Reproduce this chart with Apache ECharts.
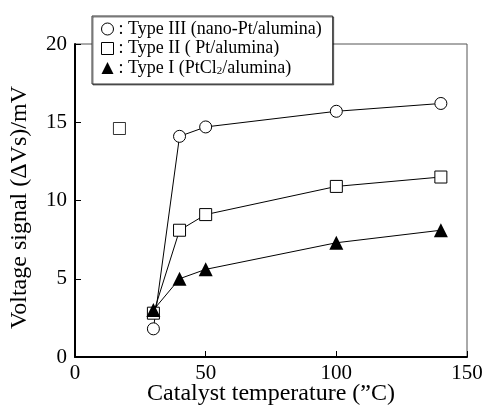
<!DOCTYPE html>
<html>
<head>
<meta charset="utf-8">
<script src="https://cdn.jsdelivr.net/npm/echarts@6/dist/echarts.min.js"></script>
<style>html,body{margin:0;padding:0;background:#fff;}#c{width:486px;height:412px;}</style>
</head>
<body>
<div id="c"></div>
<script>
var seriesNames = ['Type III', 'Type II', 'Type I'];
var legendLabels = [': Type III (nano-Pt/alumina)', ': Type II ( Pt/alumina)', ': Type I (PtCl{sub|2}/alumina)'];
var temps = [30, 40, 50, 100, 140];
var typeIII = [1.8, 14.1, 14.7, 15.7, 16.2];
var typeII = [2.8, 8.1, 9.1, 10.9, 11.5];
var typeI = [3.0, 5.0, 5.6, 7.3, 8.1];
var typeIIExtraX = [17];
var typeIIExtraY = [14.6];
var xTicks = [0, 50, 100, 150];
var yTicks = [0, 5, 10, 15, 20];

function pairs(xs, ys) { return xs.map(function (x, i) { return [x, ys[i]]; }); }

var FONT = 'Liberation Serif';
var chart = echarts.init(document.getElementById('c'), null, { renderer: 'canvas' });

var hollow = { color: '#fff', borderColor: '#000', borderWidth: 1 };

chart.setOption({
  animation: false,
  backgroundColor: '#fff',
  grid: { left: 75, right: 19, top: 44, bottom: 55, outerBoundsMode: 'none', containLabel: false,
    show: true, borderColor: '#555', borderWidth: 1, backgroundColor: 'transparent' },
  legend: {
    orient: 'vertical',
    left: 92, top: 16,
    padding: [4, 11, 7, 9],
    itemWidth: 12, itemHeight: 12, itemGap: 1.5,
    backgroundColor: '#fff',
    borderColor: '#333', borderWidth: 1,
    shadowColor: 'rgba(0,0,0,0.5)', shadowOffsetX: 1, shadowOffsetY: 1, shadowBlur: 0,
    textStyle: { fontFamily: FONT, fontSize: 18, lineHeight: 18, color: '#000',
      rich: { sub: { fontFamily: FONT, fontSize: 11, verticalAlign: 'bottom', padding: [8, 0, 0, 0], color: '#000' } } },
    formatter: function (name) { return legendLabels[seriesNames.indexOf(name)]; },
    data: [
      { name: 'Type III', icon: 'circle', itemStyle: hollow },
      { name: 'Type II', icon: 'rect', itemStyle: hollow },
      { name: 'Type I', icon: 'triangle', itemStyle: { color: '#000', borderWidth: 0 } }
    ]
  },
  xAxis: {
    type: 'value', min: 0, max: 150, interval: 50,
    name: 'Catalyst temperature (\u201DC)', nameLocation: 'middle', nameGap: 25, nameMoveOverlap: false,
    nameTextStyle: { fontFamily: FONT, fontSize: 24, color: '#000' },
    axisLine: { lineStyle: { color: '#000', width: 2 } },
    axisTick: { inside: true, length: 6, lineStyle: { color: '#000', width: 1 } },
    axisLabel: { fontFamily: FONT, fontSize: 21, color: '#000', margin: 6,
      formatter: function (v) { return xTicks.indexOf(v) >= 0 ? String(v) : ''; } },
    splitLine: { show: false }
  },
  yAxis: {
    type: 'value', min: 0, max: 20, interval: 5,
    name: 'Voltage signal (\u0394Vs)/mV', nameLocation: 'middle', nameGap: 43, nameMoveOverlap: false,
    nameTextStyle: { fontFamily: FONT, fontSize: 24, color: '#000', padding: [0, 14, 0, 0] },
    axisLine: { lineStyle: { color: '#000', width: 2 } },
    axisTick: { inside: true, length: 6, lineStyle: { color: '#000', width: 1 } },
    axisLabel: { fontFamily: FONT, fontSize: 21, color: '#000', margin: 8,
      formatter: function (v) { return yTicks.indexOf(v) >= 0 ? String(v) : ''; } },
    splitLine: { show: false }
  },
  series: [
    { name: 'Type III', type: 'line', data: pairs(temps, typeIII), symbol: 'circle', symbolSize: 12,
      itemStyle: hollow, lineStyle: { color: '#000', width: 1 }, z: 2 },
    { name: 'Type II', type: 'line', data: pairs(temps, typeII), symbol: 'rect', symbolSize: 12,
      itemStyle: hollow, lineStyle: { color: '#000', width: 1 }, z: 3 },
    { name: 'Type II extra', type: 'scatter', data: pairs(typeIIExtraX, typeIIExtraY), symbol: 'rect', symbolSize: 12,
      itemStyle: hollow, z: 3 },
    { name: 'Type I', type: 'line', data: pairs(temps, typeI), symbol: 'triangle', symbolSize: 14,
      itemStyle: { color: '#000' }, lineStyle: { color: '#000', width: 1 }, z: 4 }
  ]
});
</script>
</body>
</html>
